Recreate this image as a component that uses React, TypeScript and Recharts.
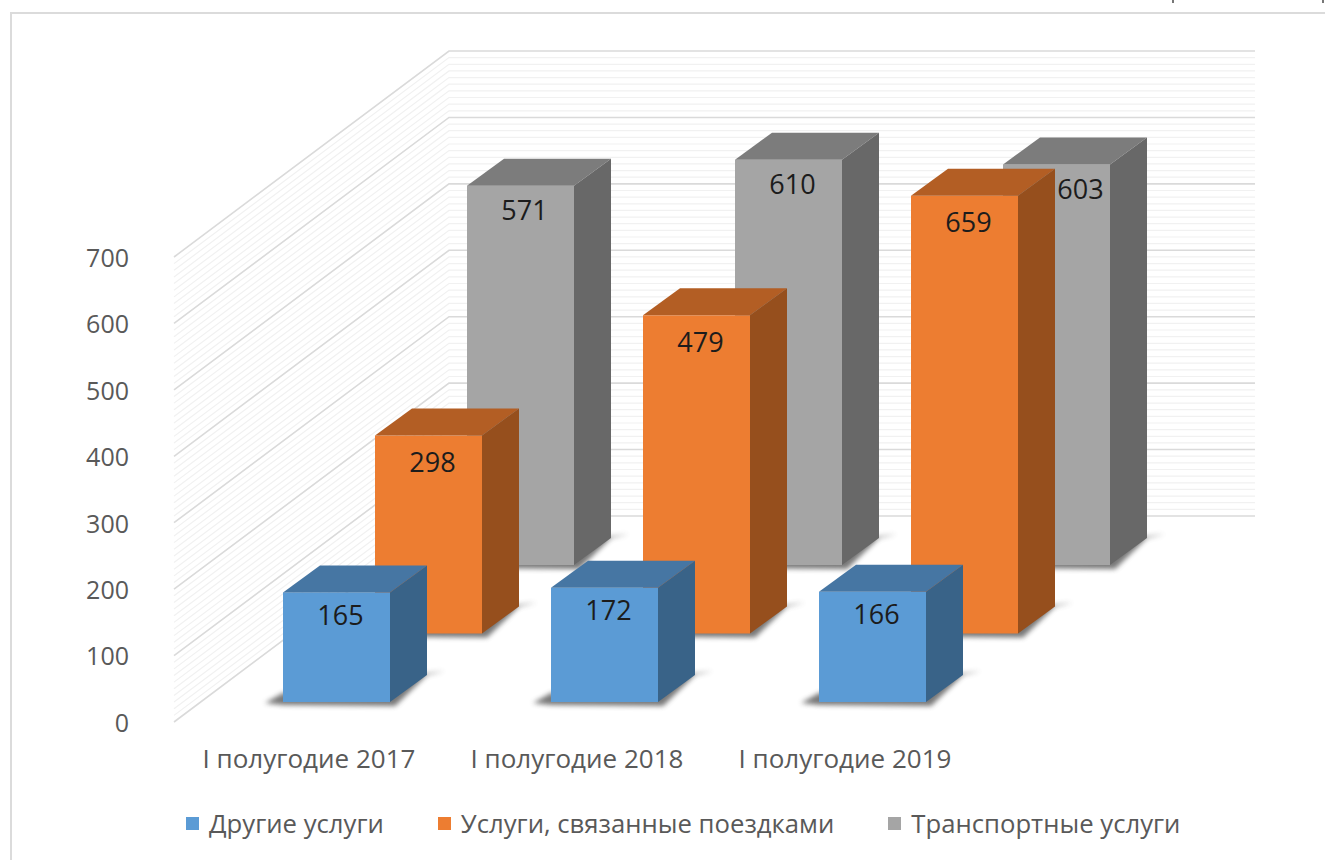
import { Bar, BarChart, CartesianGrid, LabelList, Legend, XAxis, YAxis } from 'recharts';

const periods = ['I полугодие 2017', 'I полугодие 2018', 'I полугодие 2019'];
const otherServices = [165, 172, 166];
const tripServices = [298, 479, 659];
const transportServices = [571, 610, 603];
const yTicks = [0, 100, 200, 300, 400, 500, 600, 700];
// minor grid every 10, a major line every 100
const gridValues = Array.from({ length: 71 }, (_, i) => i * 10);

const data = periods.map((period, i) => ({
  period,
  other: otherServices[i],
  trips: tripServices[i],
  transport: transportServices[i],
}));

const series = [
  { key: 'other', name: 'Другие услуги', front: '#5B9BD5', top: '#4676A3', side: '#396388' },
  { key: 'trips', name: 'Услуги, связанные поездками', front: '#ED7D31', top: '#B35E24', side: '#964F1D' },
  { key: 'transport', name: 'Транспортные услуги', front: '#A5A5A5', top: '#7C7C7C', side: '#686868' },
];

const FONT = '"Open Sans", sans-serif';
const BAR_WIDTH = 107;
const BOX_DX = 37;
const BOX_DY = 27;
// floor offset of each row, front to back
const rowX = (row: number) => 92 * row;
const rowY = (row: number) => -20 - 68.5 * row;

function Box3D({ row, x, y, width, height }: any) {
  const s = series[row];
  const left = x + rowX(row);
  const right = left + width;
  const top = y + rowY(row);
  const base = top + height;
  return (
    <g>
      <polygon
        points={`${left - 18},${base + 1} ${left},${base - 9} ${right + BOX_DX + 18},${base - BOX_DY - 4} ${right + BOX_DX},${base - BOX_DY} ${right + 5},${base + 4} ${left},${base + 3}`}
        fill="#3f3f3f"
        opacity={0.7}
        style={{ filter: 'blur(2.5px)' }}
      />
      <rect x={left} y={top} width={width} height={height} fill={s.front} />
      <polygon
        points={`${left},${top} ${left + BOX_DX},${top - BOX_DY} ${right + BOX_DX},${top - BOX_DY} ${right},${top}`}
        fill={s.top}
      />
      <polygon
        points={`${right},${top} ${right + BOX_DX},${top - BOX_DY} ${right + BOX_DX},${base - BOX_DY} ${right},${base}`}
        fill={s.side}
      />
    </g>
  );
}

function BoxLabel({ row, x, y, width, value }: any) {
  // the 603 label sits off-centre, the orange bar hides the middle of its column
  const nudge = value === 603 ? 24 : 4;
  const drop = [22, 26, 24][row];
  return (
    <text
      x={x + rowX(row) + width / 2 + nudge}
      y={y + rowY(row) + drop}
      textAnchor="middle"
      dominantBaseline="central"
      fontFamily={FONT}
      fontSize={27}
      fill="#1c1c1c"
    >
      {value}
    </text>
  );
}

function WallLine({ x1, y1, x2, index }: any) {
  const major = index % 10 === 0;
  return (
    <path
      d={`M${x1 - 28},${y1} L${x1 + 247},${y1 - 206} L${x2 + 249},${y1 - 206}`}
      fill="none"
      stroke={major ? '#DADADA' : '#F1F1F1'}
      strokeWidth={major ? 1.6 : 1.2}
    />
  );
}

function PeriodTick({ x, y, payload }: any) {
  return (
    <text x={x - 27} y={y} textAnchor="middle" dominantBaseline="central" fontFamily={FONT} fontSize={26} fill="#595959">
      {payload.value}
    </text>
  );
}

function ChartLegend() {
  const gaps = [0, 54, 54];
  return (
    <div style={{ display: 'flex', alignItems: 'center', fontFamily: FONT, fontSize: 25.7, color: '#595959', whiteSpace: 'nowrap' }}>
      {series.map((s, i) => (
        <span key={s.key} style={{ display: 'flex', alignItems: 'center', marginLeft: gaps[i] }}>
          <span style={{ width: 13, height: 13, background: s.front, marginRight: 10 }} />
          {s.name}
        </span>
      ))}
    </div>
  );
}

export default function App() {
  return (
    <div style={{ position: 'absolute', left: 0, top: 0, width: 1325, height: 860, overflow: 'hidden', background: '#fff' }}>
      <div style={{ position: 'absolute', left: 10, top: 12, width: 1400, height: 900, border: '2px solid #DBDBDB' }} />
      <div style={{ position: 'absolute', left: 1172, top: 0, width: 2, height: 3, background: '#777' }} />
      <div style={{ position: 'absolute', left: 1322, top: 0, width: 2, height: 3, background: '#777' }} />
      <div style={{ position: 'absolute', left: 0, top: 0 }}>
        <BarChart
          width={1325}
          height={860}
          data={data}
          barSize={BAR_WIDTH}
          barGap={-BAR_WIDTH}
          margin={{ top: 257, right: 319, bottom: 98, left: 0 }}
        >
          <CartesianGrid vertical={false} horizontal={(p: any) => <WallLine key={p.key} {...p} />} horizontalValues={gridValues} />
          <XAxis
            dataKey="period"
            axisLine={false}
            tickLine={false}
            tickSize={0}
            tickMargin={36}
            height={40}
            interval={0}
            tick={(p: any) => <PeriodTick {...p} />}
          />
          <YAxis
            domain={[0, 700]}
            ticks={yTicks}
            interval={0}
            axisLine={false}
            tickLine={false}
            tickSize={0}
            tickMargin={73}
            width={202}
            tick={{ fill: '#595959', fontSize: 25, fontFamily: FONT, dy: 1 }}
          />
          <Legend
            verticalAlign="middle"
            content={<ChartLegend />}
            wrapperStyle={{ position: 'absolute', top: 806, left: 186, width: 1100, height: 36 }}
          />
          {/* back row first so nearer boxes paint over it */}
          {[2, 1, 0].map((row) => (
            <Bar
              key={series[row].key}
              dataKey={series[row].key}
              name={series[row].name}
              fill={series[row].front}
              isAnimationActive={false}
              shape={(p: any) => <Box3D {...p} row={row} />}
            >
              <LabelList dataKey={series[row].key} content={(p: any) => <BoxLabel {...p} row={row} />} />
            </Bar>
          ))}
        </BarChart>
      </div>
    </div>
  );
}
